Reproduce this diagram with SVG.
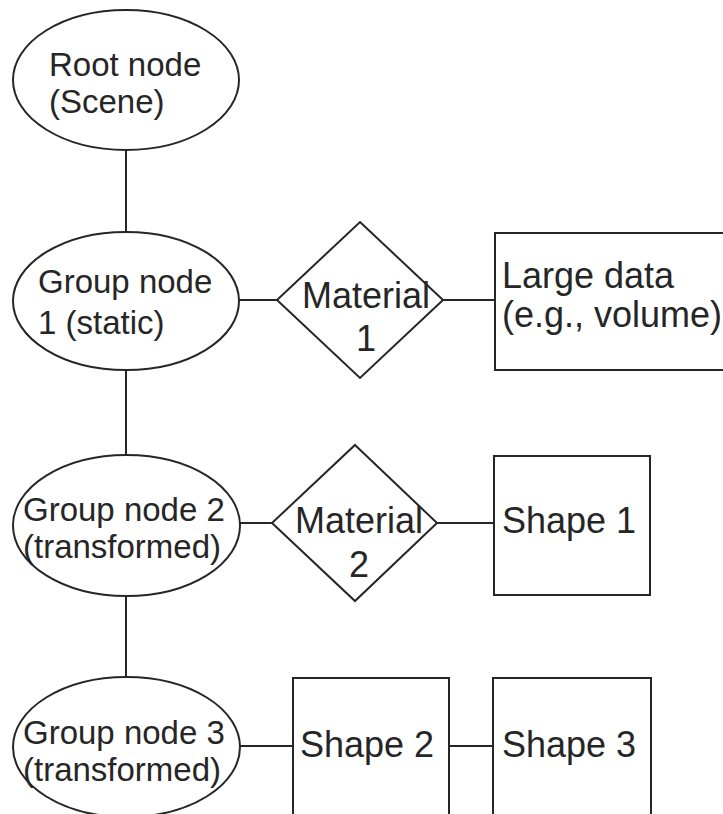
<svg xmlns="http://www.w3.org/2000/svg" width="723" height="814" viewBox="0 0 723 814">
<style>
.shape{fill:#ffffff;stroke:#262626;stroke-width:2}
.edge{stroke:#262626;stroke-width:2;fill:none}
.t{font-family:"Liberation Sans",Arial,sans-serif;fill:#262626}
.e{font-size:33px}
.b{font-size:36px}
</style>
<rect x="0" y="0" width="723" height="814" fill="#ffffff"/>
<g id="connectors">
<line class="edge" x1="126" y1="150" x2="126" y2="232"/>
<line class="edge" x1="126" y1="370" x2="126" y2="455"/>
<line class="edge" x1="126" y1="596" x2="126" y2="677"/>
<line class="edge" x1="239" y1="300" x2="277" y2="300"/>
<line class="edge" x1="443" y1="300" x2="495" y2="300"/>
<line class="edge" x1="240" y1="523" x2="272" y2="523"/>
<line class="edge" x1="437" y1="523" x2="494" y2="523"/>
<line class="edge" x1="240" y1="746" x2="293" y2="746"/>
<line class="edge" x1="449" y1="746" x2="493" y2="746"/>
</g>
<g id="root">
<ellipse class="shape" cx="126" cy="80" rx="113" ry="70"/>
<text class="t e" x="49" y="76">Root node</text>
<text class="t e" x="49" y="113">(Scene)</text>
</g>
<g id="group1">
<ellipse class="shape" cx="126" cy="301" rx="113" ry="69"/>
<text class="t e" x="38" y="293">Group node</text>
<text class="t e" x="38" y="334">1 (static)</text>
</g>
<g id="material1">
<polygon class="shape" points="360,222 443,300 360,378 277,300"/>
<text class="t b" x="366" y="308" text-anchor="middle">Material</text>
<text class="t b" x="366" y="351" text-anchor="middle">1</text>
</g>
<g id="largedata">
<rect class="shape" x="495" y="233" width="260" height="137"/>
<text class="t b" x="502" y="288">Large data</text>
<text class="t b" x="502" y="327">(e.g., volume)</text>
</g>
<g id="group2">
<ellipse class="shape" cx="126.5" cy="525.5" rx="113.5" ry="70.5"/>
<text class="t e" x="23" y="521">Group node 2</text>
<text class="t e" x="23" y="558">(transformed)</text>
</g>
<g id="material2">
<polygon class="shape" points="355,445 437,523 355,601 272,523"/>
<text class="t b" x="359" y="533" text-anchor="middle">Material</text>
<text class="t b" x="359" y="577" text-anchor="middle">2</text>
</g>
<g id="shape1">
<rect class="shape" x="494" y="456" width="156" height="139"/>
<text class="t b" x="502" y="533">Shape 1</text>
</g>
<g id="group3">
<ellipse class="shape" cx="126.5" cy="747" rx="113.5" ry="70"/>
<text class="t e" x="23" y="744">Group node 3</text>
<text class="t e" x="23" y="781">(transformed)</text>
</g>
<g id="shape2">
<rect class="shape" x="293" y="678" width="156" height="150"/>
<text class="t b" x="300" y="757">Shape 2</text>
</g>
<g id="shape3">
<rect class="shape" x="493" y="678" width="158" height="150"/>
<text class="t b" x="502" y="757">Shape 3</text>
</g>
</svg>
